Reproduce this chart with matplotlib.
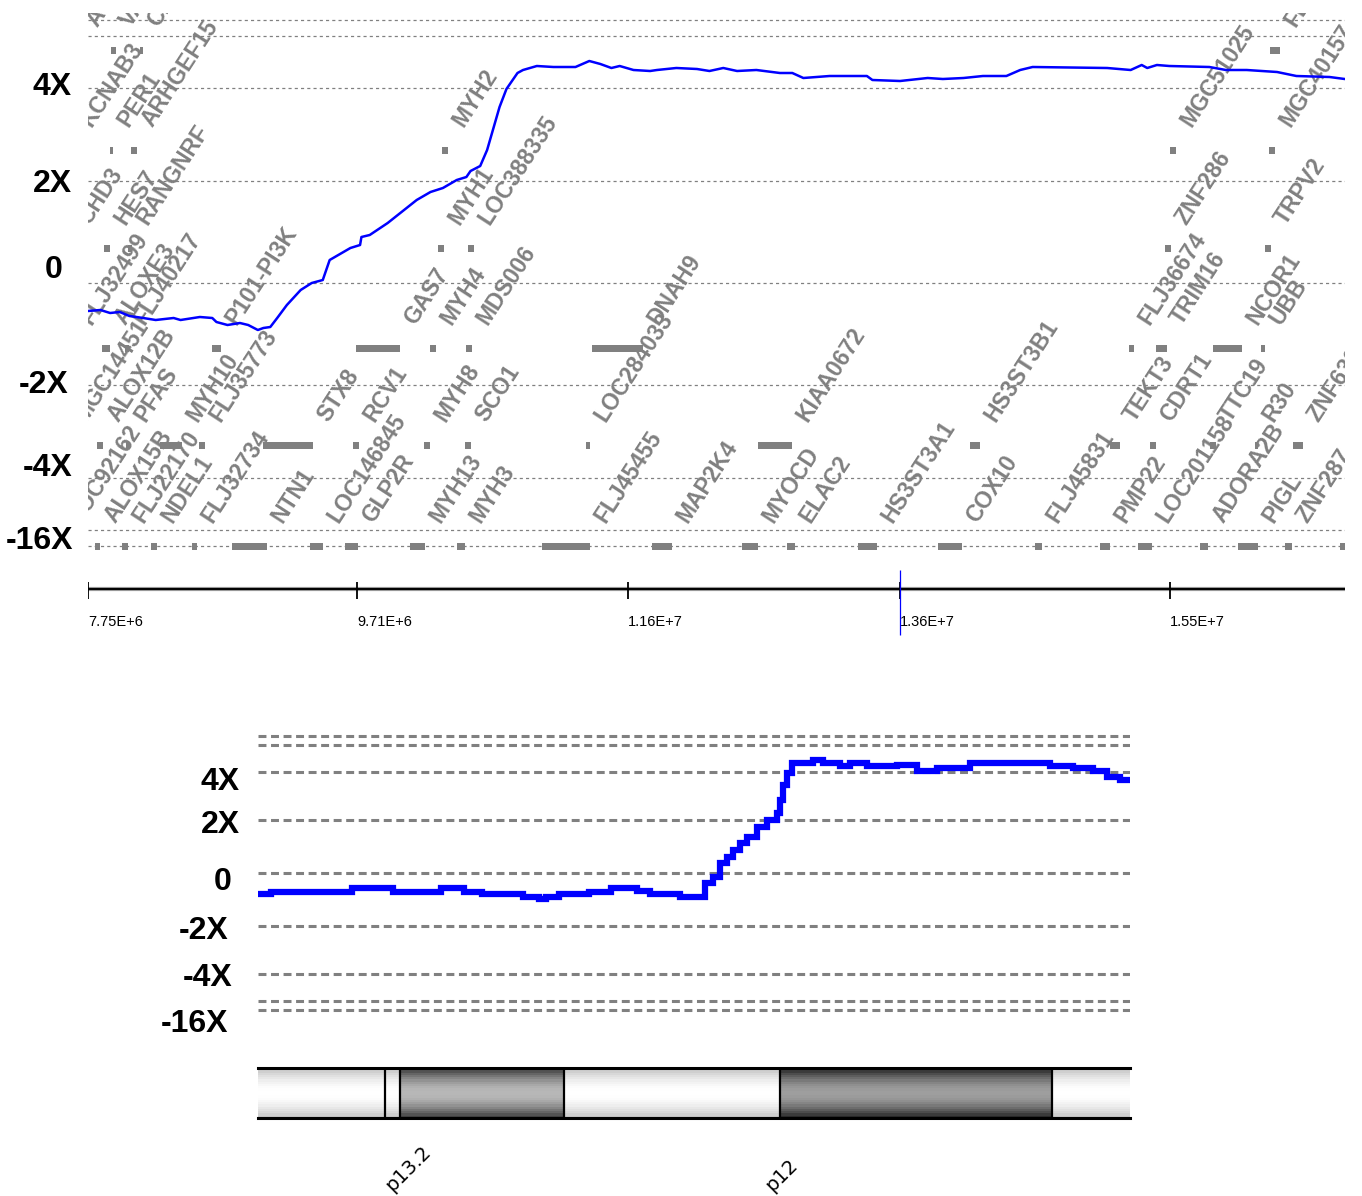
import matplotlib
matplotlib.use("Agg")
import matplotlib.pyplot as plt
import matplotlib.transforms as mtransforms
import numpy as np

# ---- data (x in Mb, y in log-ratio track units) ----
# detail trace, 7.75 - 16.85 Mb
detail_pos = [7.75, 7.84, 7.91, 7.98, 8.05, 8.15, 8.24, 8.37, 8.42, 8.56, 8.65, 8.68,
              8.76, 8.85, 8.91, 8.98, 9.02, 9.07, 9.12, 9.19, 9.29, 9.37, 9.45, 9.50,
              9.65, 9.72, 9.73, 9.79, 9.92, 10.13, 10.23, 10.32, 10.42, 10.49, 10.52,
              10.59, 10.64, 10.73, 10.78, 10.86, 10.90, 11.00, 11.12, 11.28, 11.33,
              11.38, 11.46, 11.54, 11.60, 11.70, 11.82, 11.87, 12.01, 12.16, 12.25,
              12.35, 12.45, 12.59, 12.76, 12.85, 12.93, 13.12, 13.39, 13.43, 13.63,
              13.83, 13.94, 14.09, 14.23, 14.40, 14.50, 14.59, 15.13, 15.30, 15.38,
              15.42, 15.49, 15.58, 15.87, 15.99, 16.14, 16.36, 16.50, 16.74, 16.85]
detail_ratio = [-0.28, -0.27, -0.30, -0.29, -0.33, -0.35, -0.37, -0.35, -0.37, -0.34,
                -0.35, -0.39, -0.42, -0.40, -0.42, -0.47, -0.45, -0.44, -0.35, -0.22,
                -0.07, 0.00, 0.03, 0.23, 0.35, 0.38, 0.46, 0.48, 0.60, 0.83, 0.91, 0.95,
                1.03, 1.06, 1.12, 1.17, 1.33, 1.76, 1.94, 2.10, 2.13, 2.17, 2.16, 2.16,
                2.19, 2.22, 2.19, 2.15, 2.17, 2.13, 2.12, 2.13, 2.15, 2.14, 2.12, 2.15,
                2.12, 2.13, 2.10, 2.10, 2.05, 2.07, 2.07, 2.03, 2.02, 2.05, 2.04, 2.05,
                2.07, 2.07, 2.13, 2.16, 2.15, 2.13, 2.18, 2.15, 2.18, 2.17, 2.16, 2.13,
                2.13, 2.11, 2.07, 2.06, 2.04]

# overview trace along the chromosome arm
overview_pos = [0.55, 0.79, 2.36, 3.16, 4.10, 4.55, 4.90, 5.70, 6.01, 6.15, 6.40, 6.98,
                7.41, 7.92, 8.17, 8.76, 9.25, 9.40, 9.54, 9.67, 9.79, 9.93, 10.06, 10.26,
                10.45, 10.65, 10.71, 10.77, 10.84, 10.94, 11.35, 11.55, 11.88, 12.07,
                12.40, 12.99, 13.38, 13.77, 14.41, 15.97, 16.42, 16.81, 17.08, 17.34, 17.57]
overview_ratio = [-0.40, -0.37, -0.29, -0.37, -0.29, -0.37, -0.40, -0.46, -0.50, -0.46,
                  -0.40, -0.37, -0.29, -0.35, -0.40, -0.46, -0.19, -0.08, 0.19, 0.31,
                  0.44, 0.58, 0.69, 0.88, 1.02, 1.15, 1.40, 1.69, 1.92, 2.12, 2.17,
                  2.12, 2.06, 2.12, 2.06, 2.08, 1.96, 2.02, 2.12, 2.06, 2.02, 1.96,
                  1.85, 1.79, 1.79]

gene_names = ["AURKB", "VAMP2", "C17orf68", "FLJ11526",
              "KCNAB3", "PER1", "ARHGEF15", "MYH2", "MGC51025", "MGC40157",
              "CHD3", "HES7", "RANGNRF", "MYH1", "LOC388335", "ZNF286", "TRPV2",
              "FLJ32499", "ALOXE3", "FLJ40217", "P101-PI3K", "GAS7", "MYH4", "MDS006",
              "DNAH9", "FLJ36674", "TRIM16", "NCOR1", "UBB",
              "MGC14451", "ALOX12B", "PFAS", "MYH10", "FLJ35773", "STX8", "RCV1", "MYH8",
              "SCO1", "LOC284033", "KIAA0672", "HS3ST3B1", "TEKT3", "CDRT1", "TTC19",
              "R30", "ZNF632",
              "LOC92162", "ALOX15B", "FLJ22170", "NDEL1", "FLJ32734", "NTN1", "LOC146845",
              "GLP2R", "MYH13", "MYH3", "FLJ45455", "MAP2K4", "MYOCD", "ELAC2", "HS3ST3A1",
              "COX10", "FLJ45831", "PMP22", "LOC201158", "ADORA2B", "PIGL", "ZNF287", "ZNF624"]
gene_start = [7.678, 7.917, 8.127, 16.309,
              7.634, 7.909, 8.061, 10.313, 15.585, 16.302,
              7.620, 7.866, 8.040, 10.284, 10.502, 15.549, 16.273,
              7.620, 7.851, 8.018, 8.648, 9.691, 10.226, 10.487,
              11.399, 15.288, 15.483, 15.896, 16.244,
              7.590, 7.815, 8.025, 8.271, 8.554, 9.017, 9.669, 10.183,
              10.480, 11.356, 12.601, 14.137, 15.150, 15.440, 15.874,
              16.200, 16.475,
              7.560, 7.801, 7.996, 8.206, 8.503, 8.793, 9.357,
              9.611, 10.082, 10.422, 11.037, 11.834, 12.486, 12.811, 13.326,
              13.905, 14.607, 15.078, 15.353, 15.802, 16.077, 16.417, 16.816]
gene_end = [7.707, 7.953, 8.148, 16.381,
            7.663, 7.931, 8.105, 10.357, 15.628, 16.345,
            7.649, 7.909, 8.069, 10.328, 10.545, 15.592, 16.316,
            7.663, 7.909, 8.047, 8.713, 10.009, 10.270, 10.531,
            11.769, 15.324, 15.563, 16.106, 16.273,
            7.620, 7.859, 8.054, 8.431, 8.597, 9.379, 9.712, 10.226,
            10.523, 11.385, 12.848, 14.209, 15.223, 15.483, 15.918,
            16.222, 16.548,
            7.590, 7.837, 8.040, 8.250, 8.539, 9.046, 9.452,
            9.705, 10.190, 10.480, 11.385, 11.979, 12.601, 12.869, 13.463,
            14.079, 14.658, 15.150, 15.455, 15.860, 16.222, 16.468, 16.859]
gene_track = [0] * 4 + [1] * 6 + [2] * 7 + [3] * 12 + [4] * 17 + [5] * 23

ratio_labels = ["4X", "2X", "0", "-2X", "-4X", "-16X"]
grid_levels = [2.63, 2.47, 1.95, 1.02, 0.0, -1.02, -1.95, -2.47, -2.63]

tick_pos = [7.75, 9.70, 11.66, 13.63, 15.585]
tick_labels = ["7.75E+6", "9.71E+6", "1.16E+7", "1.36E+7", "1.55E+7"]
cursor_pos = 13.63

band_start = [0.53, 3.0, 3.3, 6.5, 10.7, 16.0]
band_end = [3.0, 3.3, 6.5, 10.7, 16.0, 17.53]
band_stain = ["gneg", "gneg", "gpos50", "gneg", "gpos75", "gneg"]
band_label_names = ["p13.2", "p12"]
band_label_pos = [3.3, 10.7]

# ---- layout / style ----
W, H = 1362, 1196
GRAY = "#808080"
BLUE = "#0000ff"
TRACK_Y = [2.33, 1.33, 0.35, -0.65, -1.62, -2.63]
TOP_LABEL_Y = [1.96, 0.99, 0.13, -1.02, -1.85, -2.58]
TOP_LABEL_RIGHT = [72, 72, 63, 68, 72, 73]
BOT_LABEL_Y = [1.75, 0.92, -0.17, -1.12, -2.02, -2.90]
BOT_LABEL_RIGHT = [240, 240, 232, 228, 232, 228]
SHADES = {"gneg": (0.76, 1.0), "gpos50": (0.22, 0.72), "gpos75": (0.13, 0.62)}

fig = plt.figure(figsize=(W / 100, H / 100), dpi=100)


def px_axes(left, top, right, bottom):
    ax = fig.add_axes([left / W, 1 - bottom / H, (right - left) / W, (bottom - top) / H])
    ax.set_axis_off()
    return ax


def ratio_labels_for(ax, left_px, ys, rights):
    for lab, y, r in zip(ratio_labels, ys, rights):
        ax.annotate(lab, xy=(0, y), xycoords=("axes fraction", "data"),
                    xytext=(r - left_px, 0), textcoords="offset pixels",
                    ha="right", va="center", fontsize=23, fontweight="bold",
                    family=["Liberation Sans", "DejaVu Sans"], annotation_clip=False)


# detail panel with gene tracks
ax = px_axes(88, 13, 1345, 555)
ax.set_xlim(7.75, 16.852)
ax.set_ylim(-2.72, 2.70)
for g in grid_levels:
    ax.axhline(g, color=GRAY, lw=0.9, linestyle=(0, (2.5, 2.5)), zorder=1)
for s, e, t in zip(gene_start, gene_end, gene_track):
    ax.barh(TRACK_Y[t], e - s, left=s, height=0.07, color=GRAY, zorder=2)
for name, e, t in zip(gene_names, gene_end, gene_track):
    ax.text(e, TRACK_Y[t] + 0.19, name, rotation=57, ha="left", va="bottom",
            color=GRAY, fontsize=16.5, fontweight="bold",
            family=["Liberation Sans", "DejaVu Sans"], clip_on=True, zorder=3)
ax.plot(detail_pos, detail_ratio, color=BLUE, lw=1.8, zorder=4)
ratio_labels_for(ax, 88, TOP_LABEL_Y, TOP_LABEL_RIGHT)

# position ruler
rax = px_axes(88, 565, 1345, 640)
rax.set_xlim(7.75, 16.852)
rax.set_ylim(0, 1)
rax.axhline(0.68, color="#999999", lw=3.0)
rax.axhline(0.675, color="black", lw=1.4)
rax.vlines(tick_pos, 0.547, 0.773, color="black", lw=1.3)
rax.vlines([cursor_pos], 0.067, 0.933, color=BLUE, lw=0.9)
for p, lab in zip(tick_pos, tick_labels):
    rax.text(p, 0.24, lab, ha="left", va="center", fontsize=10.5,
             family=["Liberation Sans Narrow", "Liberation Sans"])

# chromosome overview
bax = px_axes(258, 725, 1130, 1020)
bax.set_xlim(0.53, 17.53)
bax.set_ylim(-2.827, 2.846)
for g in grid_levels:
    bax.axhline(g, color=GRAY, lw=2.2, linestyle=(0, (2.6, 1.5)), zorder=1)
bax.plot(overview_pos, overview_ratio, color=BLUE, lw=4.5, drawstyle="steps-post",
         solid_joinstyle="miter", zorder=3)
ratio_labels_for(bax, 258, BOT_LABEL_Y, BOT_LABEL_RIGHT)

# ideogram with cylinder shading
iax = px_axes(258, 1068, 1130, 1118)
iax.set_xlim(0.53, 17.53)
iax.set_ylim(0, 1)
yedges = np.linspace(0, 1, 23)
ymid = (yedges[:-1] + yedges[1:]) / 2
for s, e, st in zip(band_start, band_end, band_stain):
    edge, mid = SHADES[st]
    col = (edge + (mid - edge) * np.sin(np.pi * ymid))[:, None]
    iax.pcolormesh([s, e], yedges, col, cmap="gray", vmin=0, vmax=1, shading="flat")
iax.axhline(1, color="black", lw=2.2, clip_on=False)
iax.axhline(0, color="black", lw=2.2, clip_on=False)
iax.vlines(band_start[1:], 0, 1, color="black", lw=1.6)
btr = mtransforms.blended_transform_factory(iax.transData, fig.transFigure)
for name, p in zip(band_label_names, band_label_pos):
    iax.annotate(name, xy=(p, 1 - 1195 / H), xycoords=btr, xytext=(-18, 0),
                 textcoords="offset pixels", rotation=45, ha="left", va="bottom",
                 fontsize=14, family="DejaVu Sans", annotation_clip=False)

fig.savefig("out.png", dpi=100)
